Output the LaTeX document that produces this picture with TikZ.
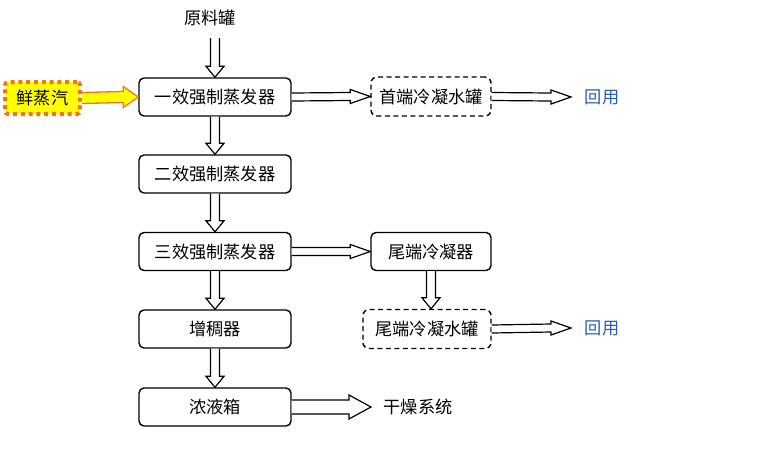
\documentclass[tikz,border=0pt]{standalone}
\usepackage{fontspec}
\newfontfamily\cjk{Noto Sans CJK SC}
\usetikzlibrary{calc}
\definecolor{steamorange}{RGB}{235,120,30}
\definecolor{steamyellow}{RGB}{255,255,0}
\definecolor{reuseblue}{RGB}{40,95,175}
\newcommand\harr[6][arr]{%
  \draw[#1] ($(#2)+(0,-#4)$) -- ($(#3)+(-#6,-#4)$) -- ($(#3)+(-#6,-#5)$) -- (#3)
    -- ($(#3)+(-#6,#5)$) -- ($(#3)+(-#6,#4)$) -- ($(#2)+(0,#4)$);}
\newcommand\varr[5]{%
  \draw[arr] ($(#1)+(-#3,0)$) -- ($(#2)+(-#3,-#5)$) -- ($(#2)+(-#4,-#5)$) -- (#2)
    -- ($(#2)+(#4,-#5)$) -- ($(#2)+(#3,-#5)$) -- ($(#1)+(#3,0)$);}
\begin{document}
\begin{tikzpicture}[x=1pt,y=-1pt,
  every node/.style={font=\cjk\fontsize{17.2}{17.2}\selectfont},
  box/.style={draw, line width=1.4pt, rounded corners=5pt, minimum width=152pt, minimum height=38pt, inner sep=0pt},
  dbox/.style={draw, line width=1.4pt, dash pattern=on 5pt off 3.5pt, rounded corners=6pt, minimum height=39pt, inner sep=0pt},
  plain/.style={inner sep=0pt},
  reuse/.style={inner sep=0pt, text=reuseblue},
  arr/.style={draw, line width=1.2pt, fill=white, line join=miter},
  yarr/.style={draw=steamorange, line width=1.3pt, fill=steamyellow, line join=miter},
  steam/.style={draw=steamorange, fill=steamyellow, line width=4pt, dash pattern=on 4pt off 3.8pt, rounded corners=3pt, minimum width=75pt, minimum height=32pt, inner sep=0pt}
]
\useasboundingbox (0,0) rectangle (764,451);
\node[plain] (raw) at (210,18) {原料罐};
\node[box] (e1) at (215,97) {一效强制蒸发器};
\node[box] (e2) at (215,174) {二效强制蒸发器};
\node[box] (e3) at (215,251.5) {三效强制蒸发器};
\node[box] (th) at (215,329) {增稠器};
\node[box] (ct) at (215,407) {浓液箱};
\node[steam] (st) at (42.5,98) {鲜蒸汽};
\node[dbox, minimum width=120pt] (ft) at (431,96.5) {首端冷凝水罐};
\node[box, minimum width=120pt] (tc) at (431,251.5) {尾端冷凝器};
\node[dbox, minimum width=128pt] (tt) at (427,329) {尾端冷凝水罐};
\node[reuse] (r1) at (602,97) {回用};
\node[reuse] (r2) at (602,328) {回用};
\node[plain] (dry) at (418,407) {干燥系统};
\coordinate (rawend) at (e1.north |- 0,38);
\coordinate (ttin) at (tc.south |- tt.north);
\coordinate (r1end) at (571,97);
\coordinate (r2end) at (571,328);
\coordinate (dryend) at (371,407);
% vertical arrows
\varr{rawend}{e1.north}{4.5}{9}{11}
\varr{e1.south}{e2.north}{4.5}{9}{11}
\varr{e2.south}{e3.north}{4.5}{9}{11}
\varr{e3.south}{th.north}{4.5}{9}{11}
\varr{th.south}{ct.north}{4.5}{9}{11}
\varr{tc.south}{ttin}{4.5}{9}{11}
% horizontal arrows
\harr{e1.east}{ft.west}{4}{7}{20}
\harr{ft.east}{r1end}{4}{7}{20}
\harr{e3.east}{tc.west}{4}{7}{20}
\harr{tt.east}{r2end}{4}{7}{20}
\harr{ct.east}{dryend}{7}{12}{22}
\harr[yarr]{st.east}{e1.west}{5.5}{10.5}{15}
\end{tikzpicture}
\end{document}
